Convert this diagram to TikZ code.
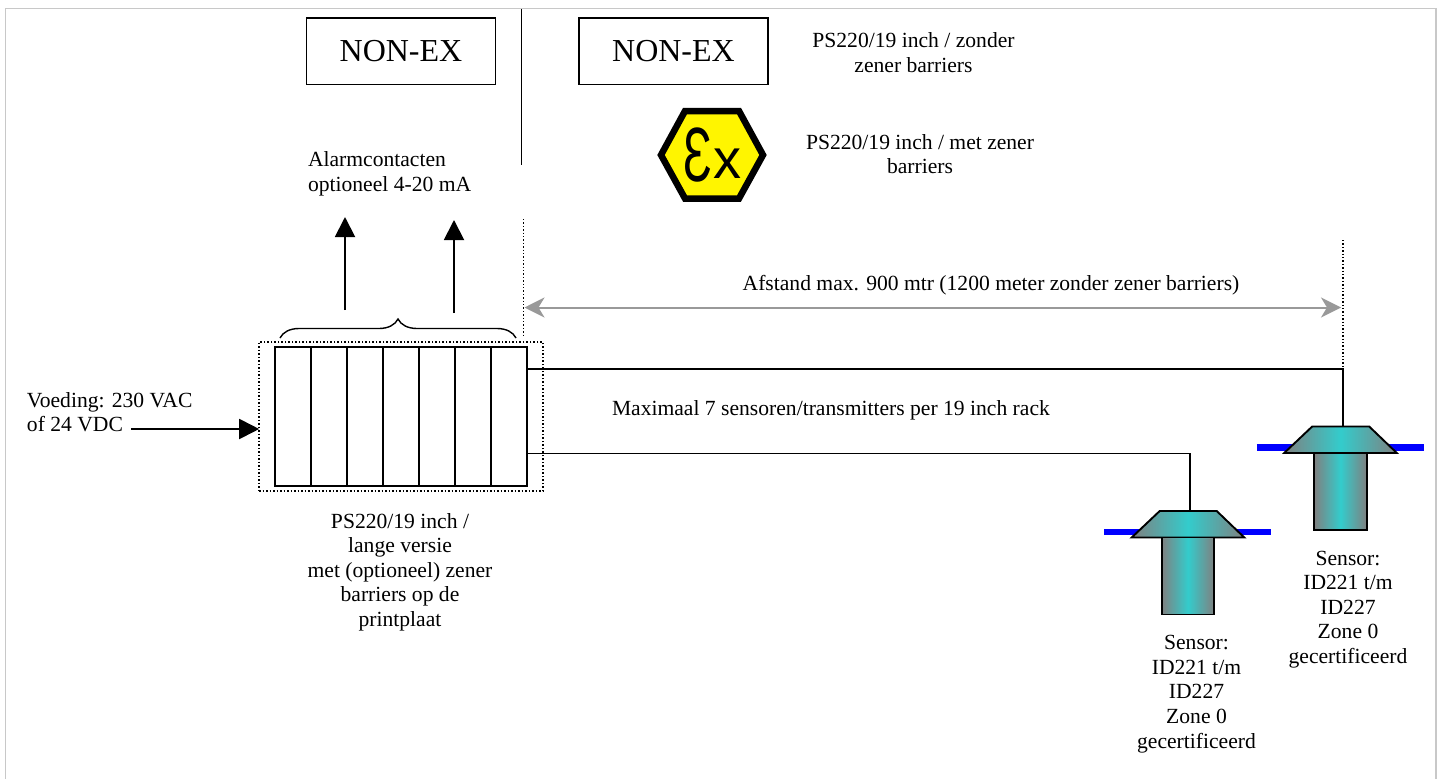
\documentclass[tikz,border=0pt]{standalone}
\usepackage{fontspec}
\setmainfont{Liberation Serif}
\newfontfamily\exfont{Liberation Sans}
\definecolor{sensorcyan}{RGB}{51, 204, 204}
\definecolor{sensorgray}{RGB}{128, 128, 128}
\definecolor{flangeblue}{RGB}{0, 0, 255}
\definecolor{framegray}{RGB}{200, 200, 200}
\definecolor{spangray}{RGB}{153, 153, 153}
\definecolor{exyellow}{RGB}{255, 245, 0}
\usetikzlibrary{
  arrows.meta,
  calc,
  decorations.pathreplacing,
  fit,
}
\tikzset{
  >={Triangle[length=20pt,width=20pt]},
  every node/.style={inner sep=0pt, outer sep=0pt},
  label/.style={font=\fontsize{21.6}{24.6}\selectfont, align=center},
  nonex/.style={draw, line width=1.9pt, minimum width=189pt, minimum height=66.5pt,
    font=\fontsize{32}{36}\selectfont},
  wire/.style={line width=1.9pt},
  sensorfill/.style={left color=sensorgray, right color=sensorgray, middle color=sensorcyan},
  sensorbody/.style={draw, line width=1.9pt, sensorfill, minimum width=52.5pt, minimum height=77pt},
}
\begin{document}
\begin{tikzpicture}[x=1pt, y=-1pt]
      \useasboundingbox (0,0) rectangle (1441,779);
      \draw [framegray, line width=1.2pt] (5.5,779) -- (5.5,8.5) -- (1436,8.5) -- (1436,779);

      \node [nonex] at (401,51.2) (nonexleft) {NON-EX};
      \node [nonex] at (673.5,51.2) (nonexright) {NON-EX};
      \draw [wire] (521.5,9) -- (521.5,165);

      \node [label] at (913.5,52.5) (psplain) {PS220/19 inch / zonder \\ zener barriers};
      \node [label] at (920,154) (pszener) {PS220/19 inch / met zener \\ barriers};

      \draw [line width=6.5pt, fill=exyellow, line join=miter]
        (661,155) -- (685,111) -- (739,111) -- (763,155) -- (739,198.5) -- (685,198.5) -- cycle;
      \node [anchor=center, font=\exfont\fontsize{77}{77}\selectfont] at (697.5,155.5)
        (exletter) {\scalebox{0.62}[1]{Ɛ}};
      \node [anchor=center, font=\exfont\fontsize{56}{56}\selectfont] at (727,164)
        (exsmall) {x};

      \node [label, align=left, anchor=west] at (308,174) (alarm)
        {Alarmcontacten \\ optioneel 4-20 mA};

      \node [draw, line width=1.9pt, minimum width=252.6pt, minimum height=138.4pt] at (401,416.5) (rack) {};
      \foreach \slot in {1,...,6}
        \draw [wire] ($(rack.north west)!\slot/7!(rack.north east)$) -- ($(rack.south west)!\slot/7!(rack.south east)$);
      \node [draw, dotted, line width=1.5pt, inner xsep=15.5pt, inner ysep=5.5pt, fit=(rack)] (rackframe) {};
      \draw [decorate, decoration={brace, amplitude=19pt}, line width=1.4pt] (280,338) -- (516,338);

      \coordinate (alarmleft) at (345,310);
      \coordinate (alarmright) at (454,313);
      \draw [->, wire] (alarmleft) -- ++(0,-93);
      \draw [->, wire] (alarmright) -- ++(0,-93);

      \node [label, align=left, anchor=west] at (27,412) (supply) {Voeding: 230 VAC \\ of 24 VDC};
      \coordinate (supplyend) at (131,429);
      \draw [->, wire] (supplyend) -- ($(rackframe.west)+(0,12.5)$);

      \node [label] at (400,572) (racktext)
        {PS220/19 inch / \\ lange versie \\ met (optioneel) zener \\ barriers op de \\ printplaat};
      \node [label, align=left, anchor=west] at (612,410) (maxsensors)
        {Maximaal 7 sensoren/transmitters per 19 inch rack};

      \coordinate (zoneleft) at (523.5,219);
      \coordinate (zoneright) at (1343,240);
      \draw [dotted, line width=1.4pt] (zoneleft) -- ++(0,117);
      \draw [dotted, line width=1.4pt] (zoneright) -- ++(0,130);
      \draw [{Stealth[length=20pt,width=20pt,inset=6pt]}-{Stealth[length=20pt,width=20pt,inset=6pt]},
             spangray, line width=2pt] ($(zoneleft)+(1,88.5)$) -- ($(zoneright)+(-2,67.5)$);
      \node [label] at (991,285) (span) {Afstand max. 900 mtr (1200 meter zonder zener barriers)};

      \foreach \sensorname/\sx/\sy in {sensora/1188/511, sensorb/1340.5/426.5} {
        \draw [flangeblue, line width=6.8pt] (\sx-83.7,\sy+21) -- (\sx+83.3,\sy+21);
        \draw [sensorfill, line width=1.9pt, line join=miter]
          (\sx-28.3,\sy) -- (\sx+28.7,\sy) -- (\sx+56.3,\sy+26.5) -- (\sx-56.3,\sy+26.5) -- cycle;
        \coordinate (\sensorname head) at (\sx,\sy);
        \node [sensorbody, anchor=north] at (\sx,\sy+26.5) (\sensorname body) {};
      }
      \draw [wire] ($(rack.north east)!0.157!(rack.south east)$) -| ($(sensorbhead)+(2.5,0)$);
      \draw [wire] ($(rack.north east)!0.767!(rack.south east)$) -| ($(sensorahead)+(2,0)$);

      \node [label] at (1196.5,694) (sensoratext) {Sensor: \\ ID221 t/m \\ ID227 \\ Zone 0 \\ gecertificeerd};
      \node [label] at (1348,609.5) (sensorbtext) {Sensor: \\ ID221 t/m \\ ID227 \\ Zone 0 \\ gecertificeerd};
    \end{tikzpicture}
\end{document}
